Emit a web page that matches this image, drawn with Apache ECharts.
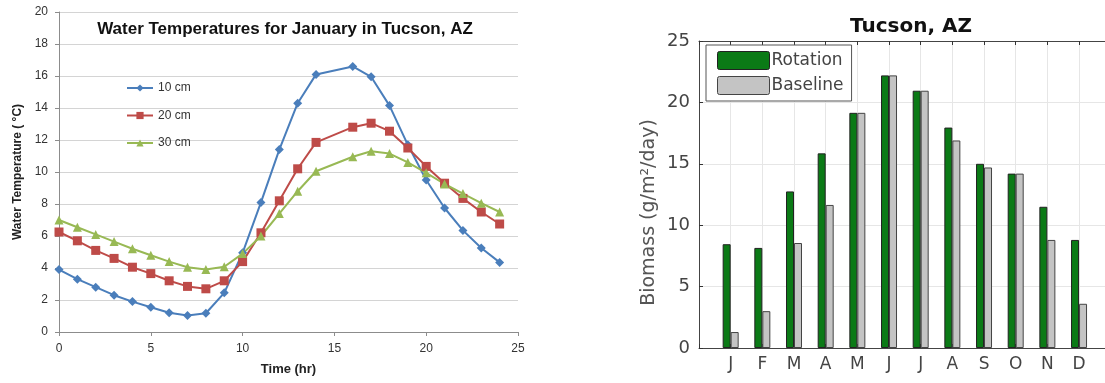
<!DOCTYPE html>
<html><head><meta charset="utf-8">
<script src="https://cdn.jsdelivr.net/npm/echarts@6/dist/echarts.min.js"></script>
<style>html,body{margin:0;padding:0;background:#fff}#c{width:1105px;height:383px}</style>
</head><body><div id="c"></div>
<script>
// Left chart: water temperatures (hour 15 not measured)
const hours = [0,1,2,3,4,5,6,7,8,9,10,11,12,13,14,16,17,18,19,20,21,22,23,24];
const temp10 = [3.9,3.3,2.8,2.3,1.9,1.55,1.2,1.03,1.17,2.45,4.95,8.1,11.4,14.3,16.1,16.6,15.95,14.15,11.7,9.5,7.75,6.35,5.25,4.35];
const temp20 = [6.25,5.7,5.1,4.6,4.05,3.65,3.2,2.85,2.7,3.2,4.4,6.2,8.2,10.2,11.85,12.8,13.05,12.55,11.5,10.35,9.3,8.35,7.5,6.75];
const temp30 = [7.0,6.55,6.1,5.65,5.2,4.8,4.4,4.05,3.9,4.08,4.9,6.0,7.4,8.8,10.05,10.95,11.3,11.15,10.6,9.95,9.25,8.65,8.05,7.5];
const depthNames = ['10 cm','20 cm','30 cm'];

// Right chart: biomass
const months = ['J','F','M','A','M','J','J','A','S','O','N','D'];
const rotation = [8.45,8.15,12.75,15.85,19.15,22.2,20.95,17.95,15.0,14.2,11.5,8.8];
const baseline = [1.3,3.0,8.55,11.65,19.15,22.2,20.95,16.9,14.7,14.2,8.8,3.6];

const pair = (xs, ys) => xs.map((x, i) => [x, ys[i]]);
const byMonth = ys => ys.map((y, i) => [i + 1, y]);
const monthLabel = v => (Number.isInteger(v) && v >= 1 && v <= months.length) ? months[v - 1] : '';

const lf = 'Liberation Sans, Arial, sans-serif';
const rf = 'DejaVu Sans, Verdana, sans-serif';

const chart = echarts.init(document.getElementById('c'), null, {renderer: 'canvas'});
chart.setOption({
  animation: false,
  backgroundColor: '#fff',
  title: [
    {text: 'Water Temperatures for January in Tucson, AZ', left: 280, top: 16, textAlign: 'center',
     textStyle: {fontFamily: lf, fontSize: 17, fontWeight: 'bold', color: '#111'}},
    {text: 'Tucson, AZ', left: 906, top: 12, textAlign: 'center',
     textStyle: {fontFamily: rf, fontSize: 20, fontWeight: 'bold', color: '#111'}}
  ],
  legend: [
    {data: depthNames, orient: 'vertical', left: 121, top: 77, itemGap: 15.5, itemWidth: 26, itemHeight: 9,
     textStyle: {fontFamily: lf, fontSize: 12, color: '#333'}},
    {data: [
       {name: 'Rotation', itemStyle: {color: '#0b7a16', borderColor: '#222', borderWidth: 1}},
       {name: 'Baseline', itemStyle: {color: '#c4c4c4', borderColor: '#444', borderWidth: 1}}],
     orient: 'vertical', left: 706, top: 45, padding: [6, 8, 6, 11], itemGap: 6,
     itemWidth: 52, itemHeight: 18, icon: 'path://M2,0 L50,0 Q52,0 52,2 L52,16 Q52,18 50,18 L2,18 Q0,18 0,16 L0,2 Q0,0 2,0 Z',
     backgroundColor: '#fff', borderColor: '#555', borderWidth: 1,
     textStyle: {fontFamily: rf, fontSize: 17, color: '#444', padding: [0, 0, 0, -3]}}
  ],
  grid: [
    {left: 59, top: 12, width: 459, height: 320},
    {left: 699, top: 41, right: 0, height: 307}
  ],
  xAxis: [
    {gridIndex: 0, type: 'value', min: 0, max: 25, interval: 5,
     name: 'Time (hr)', nameLocation: 'middle', nameGap: 31,
     nameTextStyle: {fontFamily: lf, fontSize: 13, fontWeight: 'bold', color: '#222'},
     axisLine: {lineStyle: {color: '#8c8c8c'}},
     axisTick: {show: true, length: 4, lineStyle: {color: '#8c8c8c'}},
     axisLabel: {fontFamily: lf, fontSize: 12, color: '#333', margin: 11},
     splitLine: {show: false}},
    {gridIndex: 1, type: 'value', min: 0, max: 12.82, interval: 1,
     axisLine: {lineStyle: {color: '#444'}},
     axisTick: {inside: true, length: 4, lineStyle: {color: '#333'}},
     axisLabel: {fontFamily: rf, fontSize: 17, color: '#444', margin: 8, formatter: monthLabel,
                 showMinLabel: true, showMaxLabel: false},
     splitLine: {show: true, lineStyle: {color: '#e6e6e6'}}},
    {gridIndex: 1, type: 'value', min: 0, max: 12.82, interval: 1, position: 'top',
     axisLine: {lineStyle: {color: '#444'}},
     axisTick: {inside: true, length: 4, lineStyle: {color: '#333'}},
     axisLabel: {show: false}, splitLine: {show: false}}
  ],
  yAxis: [
    {gridIndex: 0, type: 'value', min: 0, max: 20, interval: 2,
     name: 'Water Temperature ( °C)', nameLocation: 'middle', nameGap: 35,
     nameTextStyle: {fontFamily: lf, fontSize: 12, fontWeight: 'bold', color: '#222'},
     axisLine: {show: true, lineStyle: {color: '#8c8c8c'}},
     axisTick: {show: true, length: 4, lineStyle: {color: '#8c8c8c'}},
     axisLabel: {fontFamily: lf, fontSize: 12, color: '#333', margin: 11},
     splitLine: {lineStyle: {color: '#d4d4d4'}}},
    {gridIndex: 1, type: 'value', min: 0, max: 25, interval: 5,
     name: 'Biomass (g/m²/day)', nameLocation: 'middle', nameGap: 40,
     nameTextStyle: {fontFamily: rf, fontSize: 19, color: '#555', padding: [0, 36, 0, 0]},
     axisLine: {show: true, lineStyle: {color: '#444'}},
     axisTick: {show: true, inside: true, length: 4, lineStyle: {color: '#333'}},
     axisLabel: {fontFamily: rf, fontSize: 18, color: '#444', margin: 9},
     splitLine: {lineStyle: {color: '#e6e6e6'}}}
  ],
  series: [
    {name: depthNames[0], type: 'line', xAxisIndex: 0, yAxisIndex: 0, data: pair(hours, temp10),
     symbol: 'diamond', symbolSize: 9, color: '#4a7ebb', lineStyle: {width: 2}},
    {name: depthNames[1], type: 'line', xAxisIndex: 0, yAxisIndex: 0, data: pair(hours, temp20),
     symbol: 'rect', symbolSize: 9, color: '#be4b48', lineStyle: {width: 2}},
    {name: depthNames[2], type: 'line', xAxisIndex: 0, yAxisIndex: 0, data: pair(hours, temp30),
     symbol: 'triangle', symbolSize: 9, color: '#98b954', lineStyle: {width: 2}},
    {name: 'Rotation', type: 'bar', xAxisIndex: 1, yAxisIndex: 1, data: byMonth(rotation),
     barWidth: 8, barGap: '0%',
     itemStyle: {color: '#0b7a16', borderColor: '#222', borderWidth: 1}},
    {name: 'Baseline', type: 'bar', xAxisIndex: 1, yAxisIndex: 1, data: byMonth(baseline),
     barWidth: 8, barGap: '0%',
     itemStyle: {color: '#c4c4c4', borderColor: '#444', borderWidth: 1}}
  ]
});
</script></body></html>
